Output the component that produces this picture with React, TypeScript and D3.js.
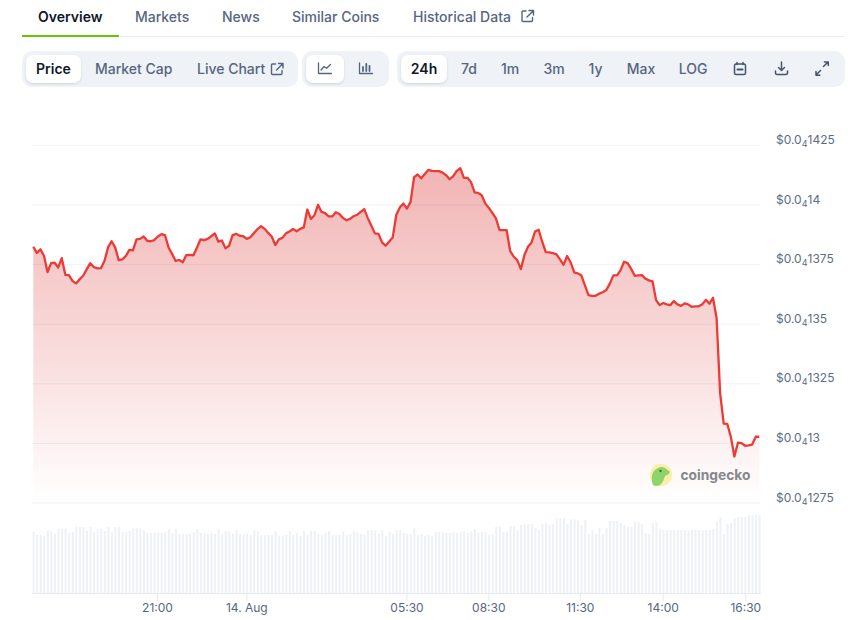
import React from "react";
import * as d3 from "d3";

const priceValues = [
  1382.5,1379.9,1381.4,1378.7,1371.9,1375.6,1375.8,1373.8,1377.7,1370.7,1370.6,1368.2,1367.1,1368.8,1370.3,1373.0,1375.6,1374.0,1373.4,1373.5,
  1376.5,1382.2,1384.8,1382.2,1376.9,1377.2,1378.6,1381.2,1381.0,1385.6,1385.8,1386.8,1385.0,1384.8,1385.3,1386.8,1387.8,1387.4,1382.2,1379.5,
  1376.5,1377.0,1376.0,1379.0,1379.1,1378.9,1382.2,1385.6,1385.3,1385.8,1386.9,1388.1,1384.6,1385.1,1381.8,1382.9,1387.4,1387.9,1387.1,1386.9,
  1385.8,1386.5,1388.2,1389.9,1391.1,1390.0,1388.3,1386.8,1383.2,1385.6,1386.2,1388.1,1388.9,1389.9,1389.0,1390.0,1390.6,1398.1,1394.2,1395.7,
  1400.1,1397.1,1396.6,1395.2,1395.2,1397.0,1396.2,1394.6,1393.6,1394.2,1395.3,1395.9,1397.1,1398.3,1394.5,1391.3,1388.1,1387.9,1384.3,1382.9,
  1384.7,1386.4,1395.9,1399.0,1400.6,1398.5,1401.3,1411.7,1412.8,1411.2,1413.0,1414.7,1414.3,1414.2,1414.2,1413.6,1412.5,1410.8,1412.1,1414.3,
  1415.4,1411.4,1411.4,1409.6,1405.3,1405.1,1404.1,1400.6,1398.8,1396.7,1394.4,1389.5,1389.5,1389.5,1380.7,1378.3,1376.9,1373.1,1379.0,1382.5,
  1384.3,1388.9,1389.6,1384.6,1380.2,1380.1,1379.8,1379.3,1377.2,1374.9,1378.6,1375.9,1371.7,1371.3,1370.5,1366.3,1362.2,1361.9,1361.9,1362.8,
  1363.4,1364.3,1367.0,1370.5,1370.5,1372.6,1376.2,1375.6,1373.2,1370.3,1370.5,1370.6,1369.1,1368.4,1368.0,1360.1,1358.0,1358.9,1358.3,1358.0,
  1359.7,1358.3,1357.7,1358.7,1358.3,1357.3,1357.5,1357.5,1358.4,1360.2,1358.6,1361.1,1352.5,1321.0,1308.3,1308.2,1302.8,1294.5,1300.3,1300.1,
  1299.0,1299.2,1299.5,1302.8,1302.8,
];

const volumeValues = [
  61.3,58.3,58.3,57.3,63,62,59.7,64.3,64.3,65,60.7,61.3,66.3,66.3,66.3,62.3,66.3,61.3,64.3,64.3,
  62.3,66.3,61.3,66.3,66.3,61.3,61.3,62.3,65,65,65,63,60.3,60.3,60.3,60.3,60.3,61.3,64.3,59.7,
  64.3,59.3,59.3,59.3,59.3,61.3,64.3,60.3,60.3,59.3,60.3,59.3,64.3,59.3,62.3,62.3,59.3,63,59.3,59.3,
  59.3,58.3,63,62.3,58.3,58.3,58.3,58.3,62,57.3,57.3,58.3,62,58.3,60.3,57.3,62.3,58.3,62.3,62.3,
  59.3,58.3,60.3,62.3,58.3,58.3,58.3,62,58.3,59.3,62,61.3,59.3,58.3,63,63,63,59.3,63,57.3,
  61.3,59.3,63,63,60.3,59.3,59.3,65.3,58.3,59.3,57.3,58.3,57.3,61.3,61.3,61.3,60.3,60.3,61.3,60.3,
  61.3,62.3,60.3,62,64.3,60.3,61.3,61.3,58.3,59.3,66.3,66.3,61.3,61.3,67.3,67.3,63.3,68.3,69.3,69.3,
  69.3,65.3,63.3,69.3,70.3,68.7,69.3,75,75.3,75.3,69.3,74,74,73.3,68.3,73.3,59.3,63,59.3,65.3,
  59.3,65.3,72.3,72.3,72.3,70.3,68.3,66.3,66.3,71.3,71.3,69.3,60.3,59.3,70.3,71.3,64.3,63.3,63.3,63.3,
  63.3,63.3,63.3,63.3,62.3,63.3,63.3,63.3,63.3,63.3,63.3,64.3,72.3,76.3,59.3,69.3,70.3,75,76.3,76.3,76.3,
  78.3,78.3,78.3,78.3,
].slice(0, 205);

const yTickValues = [1425, 1400, 1375, 1350, 1325, 1300, 1275];
const yTickDigits = ["1425", "14", "1375", "135", "1325", "13", "1275"];
const xTickIndex = [34.9, 60, 105, 128, 153.7, 177, 200.2];
const xTickLabels = ["21:00", "14. Aug", "05:30", "08:30", "11:30", "14:00", "16:30"];
const tabNames = ["Overview", "Markets", "News", "Similar Coins", "Historical Data"];
const tabLeft = [38, 135, 222, 292, 413];
const rangeNames = ["7d", "1m", "3m", "1y", "Max", "LOG"];
const rangeCenter = [469, 510, 554, 595.5, 641, 693];

const FONT = "Inter, 'Noto Sans', sans-serif";
const GREY = "#566680";
const DARK = "#0f172a";

const x = d3.scaleLinear().domain([0, 204]).range([33.3, 759.3]);
const y = d3.scaleLinear().domain([1275, 1425]).range([503, 145.4]);
const vol = d3.scaleLinear().domain([0, 78.3]).range([593.3, 515]);

const lineGen = d3.line<number>().x((_, i) => x(i)).y((d) => y(d));
const areaGen = d3.area<number>().x((_, i) => x(i)).y0(503).y1((d) => y(d));

const Ext = ({ x: px, y: py }: { x: number; y: number }) => (
  <g transform={`translate(${px},${py})`} fill="none" stroke={GREY} strokeWidth={1.4} strokeLinecap="round" strokeLinejoin="round">
    <path d="M5 1.5H2a1 1 0 0 0-1 1V11a1 1 0 0 0 1 1h8.5a1 1 0 0 0 1-1V8" />
    <path d="M8 1h4.500v4.500M12.300 1.200L6 7.500" />
  </g>
);

export default function App() {
  return (
    <svg width={864} height={620} viewBox="0 0 864 620" style={{ position: "fixed", left: 0, top: 0, background: "#fff" }} fontFamily={FONT}>
      <defs>
        <linearGradient id="priceFill" gradientUnits="userSpaceOnUse" x1={0} x2={0} y1={160} y2={503}>
          <stop offset="0" stopColor="#dd3f3f" stopOpacity={0.4} />
          <stop offset="0.55" stopColor="#e04a4a" stopOpacity={0.2} />
          <stop offset="1" stopColor="#e85050" stopOpacity={0} />
        </linearGradient>
        <filter id="btnShadow" x="-20%" y="-20%" width="140%" height="150%">
          <feDropShadow dx={0} dy={1} stdDeviation={1.2} floodColor="#94a3b8" floodOpacity={0.4} />
        </filter>
      </defs>

      {/* tabs */}
      <rect x={119} y={36} width={725} height={1} fill="#e9ecf0" />
      <rect x={22} y={35} width={97} height={2} fill="#65c700" />
      {tabNames.map((t, i) => (
        <text key={t} x={tabLeft[i]} y={22} fontSize={14} fontWeight={i === 0 ? 600 : 500} fill={i === 0 ? DARK : GREY}>{t}</text>
      ))}
      <Ext x={521} y={9.500} />

      {/* button groups */}
      <rect x={22} y={51} width={276} height={36} rx={10} fill="#eff2f7" />
      <rect x={26} y={55} width={55} height={28} rx={7} fill="#fff" filter="url(#btnShadow)" />
      <text x={53.500} y={74} fontSize={14} fontWeight={600} fill={DARK} textAnchor="middle">Price</text>
      <text x={95} y={74} fontSize={14} fontWeight={500} fill={GREY}>Market Cap</text>
      <text x={197} y={74} fontSize={14} fontWeight={500} fill={GREY}>Live Chart</text>
      <Ext x={270.500} y={62.500} />

      <rect x={302} y={51} width={87} height={36} rx={10} fill="#eff2f7" />
      <rect x={306} y={55} width={38} height={28} rx={7} fill="#fff" filter="url(#btnShadow)" />
      <g fill="none" stroke={GREY} strokeWidth={1.3} strokeLinecap="round" strokeLinejoin="round">
        <path d="M318.500 63v10.500h13" />
        <path d="M321 70l3-3.500 2.500 1.800 4-3.800" />
        <path d="M359.500 63v10.500h13" />
        <path d="M363 67v4M366.300 64v7M369.500 66v5" strokeWidth={1.8} />
      </g>

      <rect x={397} y={51} width={448} height={36} rx={10} fill="#eff2f7" />
      <rect x={401} y={55} width={46} height={28} rx={7} fill="#fff" filter="url(#btnShadow)" />
      <text x={424} y={74} fontSize={14} fontWeight={600} fill={DARK} textAnchor="middle">24h</text>
      {rangeNames.map((t, i) => (
        <text key={t} x={rangeCenter[i]} y={74} fontSize={14} fontWeight={500} fill={GREY} textAnchor="middle">{t}</text>
      ))}
      <g fill="none" stroke="#46556b" strokeWidth={1.5} strokeLinecap="round" strokeLinejoin="round">
        <rect x={734.500} y={64} width={11} height={10.500} rx={1.500} />
        <path d="M737 62.500v2M743 62.500v2" />
        <path d="M737.500 69.500h5" strokeWidth={2} />
        <path d="M781.500 62v8M778.500 67.500l3 3 3-3M775.500 71v2a1.500 1.500 0 0 0 1.500 1.500h9a1.500 1.500 0 0 0 1.500-1.500v-2" />
        <path d="M823.500 66.500l4.500-4.500M824.500 62H828.300V65.500M820.500 70.500l-4.500 4.500M816 71.500V75.200H819.800" />
      </g>

      {/* price chart */}
      <path d={areaGen(priceValues)!} fill="url(#priceFill)" />
      {yTickValues.map((v) => (
        <line key={v} x1={32} x2={760.500} y1={y(v)} y2={y(v)} stroke="#4b5563" strokeOpacity={0.08} strokeWidth={1} />
      ))}
      <path d={lineGen(priceValues)!} fill="none" stroke="#ee3a35" strokeWidth={2.3} strokeLinejoin="round" />
      {yTickValues.map((v, i) => (
        <text key={v} x={776} y={y(v) - 1.500} fontSize={12} fill="#5a6d88">
          $0.0<tspan fontSize={9} dy={3}>4</tspan><tspan dy={-3}>{yTickDigits[i]}</tspan>
        </text>
      ))}

      {/* watermark */}
      <circle cx={661} cy={475} r={11} fill="#fdeea6" />
      <path d="M653 485c-2-5-1.500-11 1-14 2.500-3.500 8-5.500 11-3 1.500 1 3 2.500 5 3.500-.5 3-3 3.500-5 4.500-1 3-2 6.500-4.500 8.500-2.500 1.800-5.500 1.800-7.500.5z" fill="#8fd46a" />
      <circle cx={660.500} cy={471} r={1.200} fill="#3f6b3a" />
      <text x={680.500} y={480} fontSize={14} fontWeight={700} fill="#85888e" textLength={70} lengthAdjust="spacingAndGlyphs">coingecko</text>

      {/* volume */}
      {volumeValues.map((v, i) => (
        <rect key={i} x={x(i) + 0.3 - 1} y={vol(v)} width={2} height={vol(0) - vol(v)} fill="#eef1f5" />
      ))}
      <line x1={32} x2={760.500} y1={593.500} y2={593.500} stroke="#e7eaee" />
      {xTickIndex.map((t, i) => (
        <g key={xTickLabels[i]}>
          <line x1={x(t)} x2={x(t)} y1={593.500} y2={601} stroke="#e7eaee" />
          <text x={x(t)} y={612} fontSize={12} fill={GREY} textAnchor="middle">{xTickLabels[i]}</text>
        </g>
      ))}
    </svg>
  );
}
